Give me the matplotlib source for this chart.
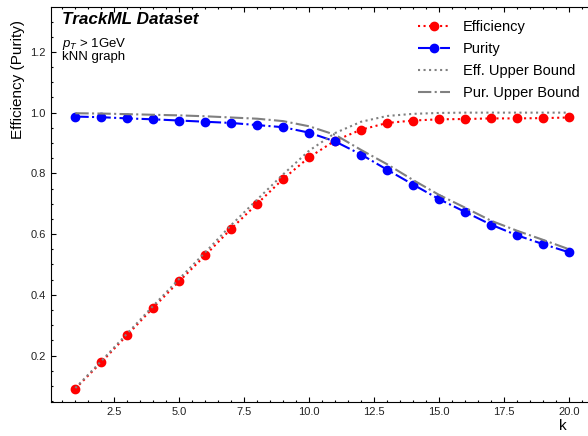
import matplotlib
matplotlib.use("Agg")
import matplotlib.pyplot as plt
from matplotlib.ticker import MultipleLocator, FormatStrFormatter

plt.rcParams["font.family"] = ["Liberation Sans", "DejaVu Sans"]
plt.rcParams["mathtext.fontset"] = "custom"
plt.rcParams["mathtext.rm"] = "Liberation Sans"
plt.rcParams["mathtext.it"] = "Liberation Sans:italic"

k_values = list(range(1, 21))
efficiency = [0.091, 0.178, 0.268, 0.358, 0.445, 0.530, 0.618, 0.700, 0.782, 0.853,
              0.908, 0.944, 0.966, 0.974, 0.978, 0.979, 0.981, 0.981, 0.982, 0.984]
purity = [0.987, 0.985, 0.981, 0.978, 0.974, 0.970, 0.966, 0.959, 0.952, 0.934,
          0.905, 0.862, 0.812, 0.763, 0.715, 0.673, 0.631, 0.596, 0.567, 0.540]
eff_upper = [0.093, 0.182, 0.273, 0.364, 0.453, 0.540, 0.630, 0.714, 0.797, 0.875,
             0.933, 0.970, 0.989, 0.996, 0.999, 1.000, 1.000, 1.000, 1.000, 1.000]
pur_upper = [0.998, 0.997, 0.995, 0.993, 0.991, 0.988, 0.984, 0.980, 0.972, 0.955,
             0.927, 0.877, 0.830, 0.778, 0.729, 0.687, 0.644, 0.611, 0.581, 0.550]

fig = plt.figure(figsize=(5.88, 4.36), dpi=100)
ax = fig.add_axes([0.0862, 0.078, 0.9235, 0.906])

ax.plot(k_values, efficiency, ls=":", color="red", lw=1.5, marker="o", ms=6,
        label="Efficiency")
ax.plot(k_values, purity, ls="-.", color="blue", lw=1.5, marker="o", ms=6,
        label="Purity")
ax.plot(k_values, eff_upper, ls=":", color="grey", lw=1.5, label="Eff. Upper Bound")
ax.plot(k_values, pur_upper, ls="-.", color="grey", lw=1.5, label="Pur. Upper Bound")

ax.set_xlim(0.05, 20.95)
ax.set_ylim(0.047, 1.348)
ax.xaxis.set_major_locator(MultipleLocator(2.5))
ax.xaxis.set_minor_locator(MultipleLocator(0.5))
ax.set_yticks([0.2, 0.4, 0.6, 0.8, 1.0, 1.2])
ax.set_yticks([v / 100 for v in range(5, 135, 5)], minor=True)
ax.yaxis.set_major_formatter(FormatStrFormatter("%.1f"))
ax.tick_params(which="both", direction="in", top=True, right=True,
               labelsize=8, labelcolor="#222222")
ax.tick_params(which="major", length=3.6, width=0.8)
ax.tick_params(which="minor", length=1.7, width=0.8)

ax.set_ylabel("Efficiency (Purity)", fontsize=11, ha="right")
ax.yaxis.set_label_coords(-0.047, 0.967)
ax.set_xlabel("k", fontsize=11, ha="right")
ax.xaxis.set_label_coords(0.951, -0.042)

ax.text(0.021, 0.957, "TrackML Dataset", transform=ax.transAxes, fontsize=12.3,
        fontweight="bold", fontstyle="italic", va="baseline")
ax.text(0.021, 0.898, r"$p_T$ > 1GeV", transform=ax.transAxes, fontsize=9.5,
        va="baseline")
ax.text(0.021, 0.865, "kNN graph", transform=ax.transAxes, fontsize=9.5,
        va="baseline")

ax.legend(loc="upper left", bbox_to_anchor=(418 / 588, 1 - 20 / 436),
          bbox_transform=fig.transFigure, frameon=False, fontsize=10.5,
          borderpad=0, handlelength=2.2, handletextpad=0.9, labelspacing=0.55,
          borderaxespad=0)

fig.savefig("out.png", dpi=100)
